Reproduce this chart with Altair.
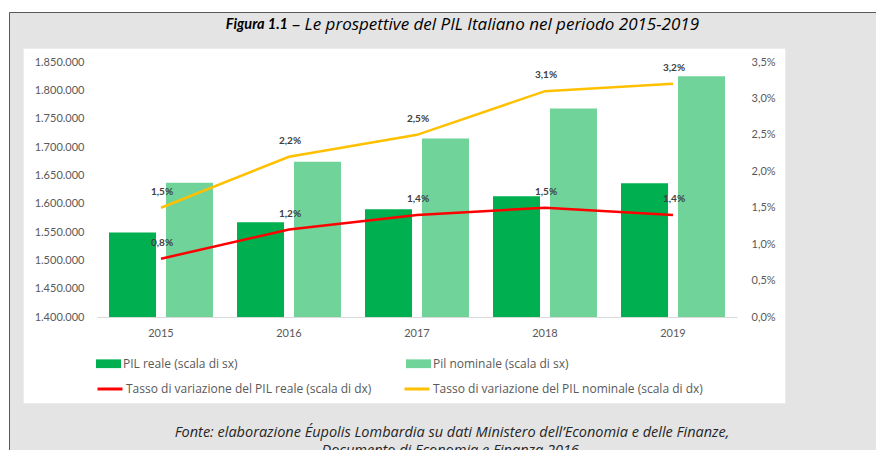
import altair as alt
import pandas as pd

# ---------------- data ----------------
anni = ["2015", "2016", "2017", "2018", "2019"]
pil_reale = [1549000, 1567000, 1590000, 1613000, 1636000]
pil_nominale = [1637000, 1674000, 1715000, 1768000, 1825000]
tasso_reale = [0.8, 1.2, 1.4, 1.5, 1.4]
tasso_nominale = [1.5, 2.2, 2.5, 3.1, 3.2]

serie_barre = ["PIL reale (scala di sx)", "Pil nominale (scala di sx)"]
serie_linee = ["Tasso di variazione del PIL reale (scala di dx)",
               "Tasso di variazione del PIL nominale (scala di dx)"]
colori_barre = ["#00b050", "#6fd39a"]
colori_linee = ["#ff0000", "#ffc000"]

tick_sx = [1400000, 1450000, 1500000, 1550000, 1600000, 1650000,
           1700000, 1750000, 1800000, 1850000]
tick_dx = [0.0, 0.005, 0.01, 0.015, 0.02, 0.025, 0.03, 0.035]

titolo_bold = "Figura 1.1"
titolo_resto = "– Le prospettive del PIL Italiano nel periodo 2015-2019"
fonte_1 = "Fonte: elaborazione Éupolis Lombardia su dati Ministero dell’Economia e delle Finanze,"
fonte_2 = "Documento di Economia e Finanza 2016."

# ---------------- tables ----------------
df_b = pd.DataFrame({
    "anno": anni * 2,
    "serie": [serie_barre[0]] * 5 + [serie_barre[1]] * 5,
    "valore": pil_reale + pil_nominale,
})
tassi = tasso_reale + tasso_nominale
df_l = pd.DataFrame({
    "anno": anni * 2,
    "serie": [serie_linee[0]] * 5 + [serie_linee[1]] * 5,
    "tasso": [t / 100 for t in tassi],
    "etichetta": [f"{t:.1f}%".replace(".", ",") for t in tassi],
})

W, H = 640, 255
FONT = "Lato"
FONT2 = "Open Sans"
LABEL_COL = "#595959"
one = alt.Data(values=[{}])

x_enc = alt.X(
    "anno:N",
    scale=alt.Scale(paddingInner=0.1875, paddingOuter=0.09375),
    axis=alt.Axis(title=None, labelAngle=0, ticks=False, domainColor="#d9d9d9",
                  domainWidth=1, labelPadding=10, labelFont=FONT, labelFontSize=11,
                  labelColor=LABEL_COL, grid=False, zindex=1),
)

# ---------------- background panels ----------------
bg = alt.Chart(one).mark_rect(fill="#e4e4e4", stroke="#595959", strokeWidth=1).encode(
    x=alt.value(-87.5), x2=alt.value(800), y=alt.value(-49.5), y2=alt.value(420)
)
panel = alt.Chart(one).mark_rect(fill="white", stroke="#ececec", strokeWidth=1).encode(
    x=alt.value(-73.5), x2=alt.value(688.5), y=alt.value(-13.5), y2=alt.value(341.5)
)

# ---------------- bars ----------------
bars = alt.Chart(df_b).mark_bar().encode(
    x=x_enc,
    xOffset=alt.XOffset("serie:N", scale=alt.Scale(domain=serie_barre, paddingInner=0.175, paddingOuter=0)),
    y=alt.Y("valore:Q",
            scale=alt.Scale(domain=[1400000, 1850000], zero=False, nice=False),
            axis=alt.Axis(orient="left", values=tick_sx, title=None, ticks=False, domain=False,
                          grid=False, labelPadding=13, labelFont=FONT, labelFontSize=11,
                          labelColor=LABEL_COL, zindex=1,
                          labelExpr="replace(replace(format(datum.value, ','), ',', '.'), ',', '.')")),
    y2=alt.datum(1400000),
    fill=alt.Fill("serie:N", scale=alt.Scale(domain=serie_barre, range=colori_barre),
                  legend=alt.Legend(title=None, orient="none", legendX=-1, legendY=289,
                                    direction="horizontal", columns=2, columnPadding=168,
                                    symbolType="M-1,-0.35L1,-0.35L1,0.35L-1,0.35Z",
                                    symbolSize=625, symbolStrokeWidth=0, labelOffset=2,
                                    labelLimit=500, labelFont=FONT2, labelFontSize=12,
                                    labelColor=LABEL_COL)),
)

# ---------------- lines + labels ----------------
y_dx = alt.Y("tasso:Q", scale=alt.Scale(domain=[0, 0.035], nice=False, zero=True),
             axis=alt.Axis(orient="right", values=tick_dx, title=None, ticks=False, domain=False,
                           grid=False, labelPadding=14, labelFont=FONT, labelFontSize=11,
                           labelColor=LABEL_COL, zindex=1,
                           labelExpr="replace(format(datum.value, '.1%'), '.', ',')"))
lines = alt.Chart(df_l).mark_line(strokeWidth=2.5).encode(
    x=x_enc,
    y=y_dx,
    stroke=alt.Stroke("serie:N", scale=alt.Scale(domain=serie_linee, range=colori_linee),
                      legend=alt.Legend(title=None, orient="none", legendX=-1, legendY=313,
                                        direction="horizontal", columns=2, columnPadding=26,
                                        symbolType="stroke", symbolSize=625, symbolStrokeWidth=3,
                                        labelOffset=2, labelLimit=500, labelFont=FONT2,
                                        labelFontSize=12, labelColor=LABEL_COL)),
)
labels = alt.Chart(df_l).mark_text(dy=-16, dx=1, fontSize=10, fontWeight="bold",
                                   font=FONT, color="#404040").encode(
    x=x_enc,
    y=y_dx,
    text="etichetta:N",
)
right = alt.layer(lines, labels)

# ---------------- texts ----------------
t1 = alt.Chart(one).mark_text(align="right", baseline="middle", font=FONT, fontSize=14.5,
                              fontStyle="italic", fontWeight="bold", color="#000000").encode(
    x=alt.value(191), y=alt.value(-37), text=alt.value(titolo_bold))
t2 = alt.Chart(one).mark_text(align="left", baseline="middle", font=FONT2, fontSize=17,
                              fontStyle="italic", color="#000000").encode(
    x=alt.value(195), y=alt.value(-37), text=alt.value(titolo_resto))
s1 = alt.Chart(one).mark_text(align="center", baseline="middle", font=FONT2, fontSize=14.5,
                              fontStyle="italic", color="#262626").encode(
    x=alt.value(355), y=alt.value(371), text=alt.value(fonte_1))
s2 = alt.Chart(one).mark_text(align="center", baseline="middle", font=FONT2, fontSize=14.5,
                              fontStyle="italic", color="#262626").encode(
    x=alt.value(355), y=alt.value(389), text=alt.value(fonte_2))

chart = alt.layer(bg, panel, bars, right, t1, t2, s1, s2).resolve_scale(
    y="independent", fill="independent", stroke="independent"
).properties(
    width=W, height=H,
    autosize=alt.AutoSizeParams(type="none"),
    padding={"left": 89, "top": 54, "right": 139, "bottom": 133},
    background="white",
).configure_view(stroke=None)

chart.save("out.html", embed_options={"renderer": "svg", "actions": False})
